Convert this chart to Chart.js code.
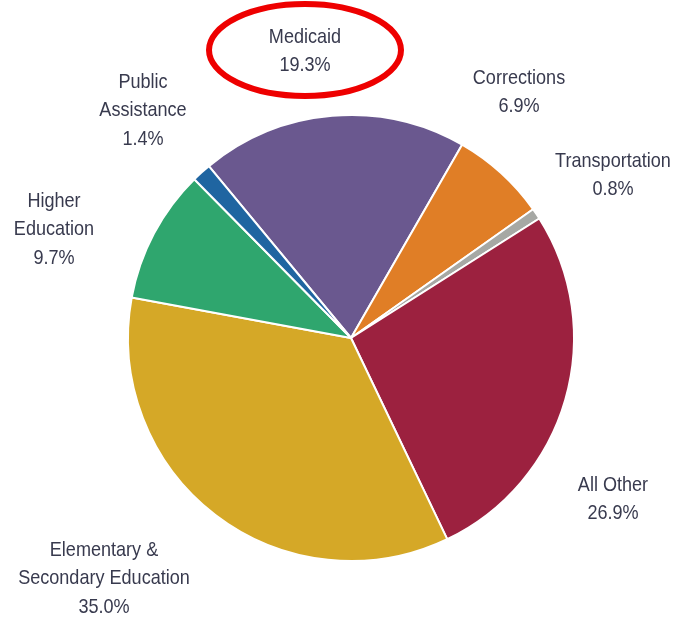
<!DOCTYPE html>
<html>
<head>
<meta charset="utf-8">
<script src="https://cdn.jsdelivr.net/npm/chart.js@4"></script>
<style>
  html, body { margin: 0; padding: 0; background: #fff; }
  #wrap { width: 685px; height: 620px; }
</style>
</head>
<body>
<div id="wrap"><canvas id="pie" width="685" height="620"></canvas></div>
<script>
  // --- spending shares (%) ---
  const categories = [
    "Medicaid",
    "Corrections",
    "Transportation",
    "All Other",
    "Elementary & Secondary Education",
    "Higher Education",
    "Public Assistance",
  ];
  const shares = [19.3, 6.9, 0.8, 26.9, 35.0, 9.7, 1.4];
  const labelLines = [
    ["Medicaid"],
    ["Corrections"],
    ["Transportation"],
    ["All Other"],
    ["Elementary &", "Secondary Education"],
    ["Higher", "Education"],
    ["Public", "Assistance"],
  ];
  const colors = ["#6a588f", "#e07e26", "#a6a8a4", "#9c213f", "#d5a827", "#2fa66e", "#1f65a1"];

  // where each label block sits (center x, first line y)
  const labelSpots = [
    [305, 37], [519, 78], [613, 161], [613, 485], [104, 550], [54, 201], [143, 82],
  ];

  // condensed look: a taller face squeezed sideways
  const FONT = "21px 'Liberation Sans', 'Arial', sans-serif";
  const SQUEEZE = 0.86;

  const outsideLabels = {
    id: "outsideLabels",
    afterDraw(chart) {
      const ctx = chart.ctx;
      ctx.save();
      ctx.font = FONT;
      ctx.fillStyle = "#383a4e";
      ctx.textAlign = "center";
      ctx.textBaseline = "middle";
      const vals = chart.data.datasets[0].data;
      labelLines.forEach((lines, i) => {
        const [x, y] = labelSpots[i];
        const all = lines.concat([vals[i].toFixed(1) + "%"]);
        all.forEach((t, k) => {
          ctx.save();
          ctx.translate(x, y + k * 28.5);
          ctx.scale(SQUEEZE, 1);
          ctx.fillText(t, 0, 0);
          ctx.restore();
        });
      });

      // highlight ring around the Medicaid label
      ctx.strokeStyle = "#ee0000";
      ctx.lineWidth = 6;
      ctx.beginPath();
      ctx.ellipse(305, 50, 96, 46, 0, 0, Math.PI * 2);
      ctx.stroke();
      ctx.restore();
    },
  };

  new Chart(document.getElementById("pie"), {
    type: "pie",
    data: {
      labels: categories,
      datasets: [
        {
          data: shares,
          backgroundColor: colors,
          borderColor: "#ffffff",
          borderWidth: 2,
        },
      ],
    },
    options: {
      responsive: false,
      animation: false,
      rotation: -39.6,
      layout: { padding: { left: 127, right: 110, top: 114, bottom: 58 } },
      plugins: {
        legend: { display: false },
        tooltip: { enabled: false },
      },
    },
    plugins: [outsideLabels],
  });
</script>
</body>
</html>
